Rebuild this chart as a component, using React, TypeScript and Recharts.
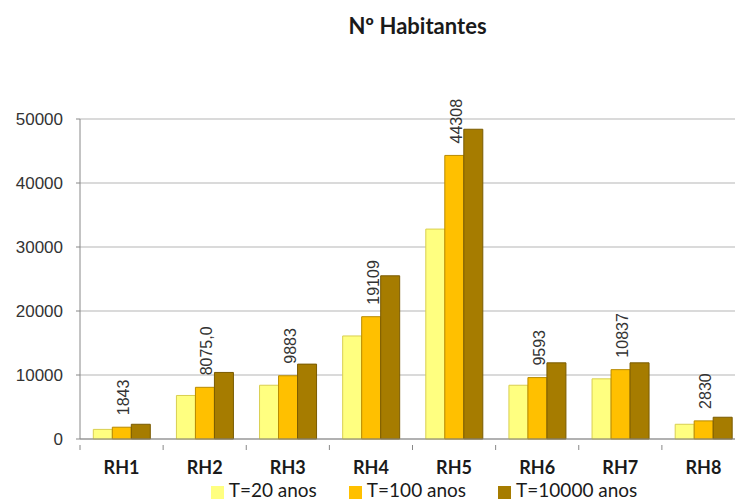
import React from "react";
import { BarChart, Bar, XAxis, YAxis, CartesianGrid, Legend, LabelList } from "recharts";

const categories = ["RH1", "RH2", "RH3", "RH4", "RH5", "RH6", "RH7", "RH8"];
const t20 = [1500, 6800, 8400, 16100, 32800, 8400, 9400, 2300];
const t100 = [1843, 8075, 9883, 19109, 44308, 9593, 10837, 2830];
const t10000 = [2300, 10400, 11700, 25500, 48400, 11900, 11900, 3400];
const t100Labels = ["1843", "8075,0", "9883", "19109", "44308", "9593", "10837", "2830"];
const yTicks = [0, 10000, 20000, 30000, 40000, 50000];

const data = categories.map((name, i) => ({
  name,
  s1: t20[i],
  s2: t100[i],
  s3: t10000[i],
  label: t100Labels[i],
}));

const BAND = 665 / categories.length;

function CategoryTick(props: any) {
  const { x, y, payload, index } = props;
  const left = x - BAND / 2;
  return (
    <g>
      <line x1={left} y1={y - 14} x2={left} y2={y - 9} stroke="#888" />
      {index === categories.length - 1 && (
        <line x1={left + BAND} y1={y - 14} x2={left + BAND} y2={y - 9} stroke="#888" />
      )}
      <text
        x={x}
        y={y}
        dy="0.85em"
        textAnchor="middle"
        fontFamily="Lato, 'Open Sans', sans-serif"
        fontWeight="bold"
        fontSize={18}
        fill="#1a1a1a"
      >
        {payload.value}
      </text>
    </g>
  );
}

function VerticalLabel(props: any) {
  const { x, y, width, value } = props;
  const cx = x + width / 2 + 2;
  const by = y - 12;
  return (
    <text
      x={cx}
      y={by}
      transform={`rotate(-90 ${cx} ${by})`}
      textAnchor="start"
      dominantBaseline="central"
      fontFamily="Arial, 'Liberation Sans', sans-serif"
      fontSize={16}
      fill="#333"
    >
      {value}
    </text>
  );
}

export default function App() {
  return (
    <div
      style={{
        position: "absolute",
        left: 0,
        top: 0,
        width: 735,
        height: 503,
        overflow: "hidden",
        background: "#fff",
      }}
    >
      <div
        style={{
          position: "absolute",
          left: 0,
          top: 12,
          width: 835,
          textAlign: "center",
          fontFamily: "Lato, 'Open Sans', sans-serif",
          fontWeight: "bold",
          fontSize: 22,
          color: "#1a1a1a",
        }}
      >
        Nº Habitantes
      </div>
      <BarChart
        width={760}
        height={503}
        data={data}
        margin={{ top: 119, right: 15, bottom: 34, left: 0 }}
        barCategoryGap="16%"
        barGap={0}
      >
        <CartesianGrid vertical={false} stroke="#b5b5b5" />
        <YAxis
          domain={[0, 50000]}
          ticks={yTicks}
          width={80}
          tickSize={4}
          tickMargin={13}
          axisLine={{ stroke: "#888" }}
          tickLine={{ stroke: "#888" }}
          tick={{ fill: "#333", fontSize: 17, fontFamily: "Arial, 'Liberation Sans', sans-serif" }}
        />
        <XAxis
          dataKey="name"
          height={30}
          tickLine={false}
          axisLine={{ stroke: "#888" }}
          tick={<CategoryTick />}
          tickMargin={14}
        />
        <Legend
          layout="horizontal"
          verticalAlign="middle"
          align="center"
          iconType="square"
          iconSize={13}
          itemSorter="dataKey"
          wrapperStyle={{
            top: 478,
            left: 0,
            width: 880,
            fontFamily: "Lato, 'Open Sans', sans-serif",
            fontSize: 19,
            color: "#1a1a1a",
          }}
          formatter={(value: string) => (
            <span style={{ color: "#1a1a1a", paddingRight: 22, marginLeft: 1 }}>{value}</span>
          )}
        />
        <Bar dataKey="s1" name="T=20 anos" fill="#FFFF80" stroke="#d9cf50" isAnimationActive={false} />
        <Bar dataKey="s2" name="T=100 anos" fill="#FFC000" stroke="#b88a00" isAnimationActive={false}>
          <LabelList dataKey="label" content={<VerticalLabel />} />
        </Bar>
        <Bar dataKey="s3" name="T=10000 anos" fill="#A67C00" stroke="#7a5b00" isAnimationActive={false} />
      </BarChart>
    </div>
  );
}
